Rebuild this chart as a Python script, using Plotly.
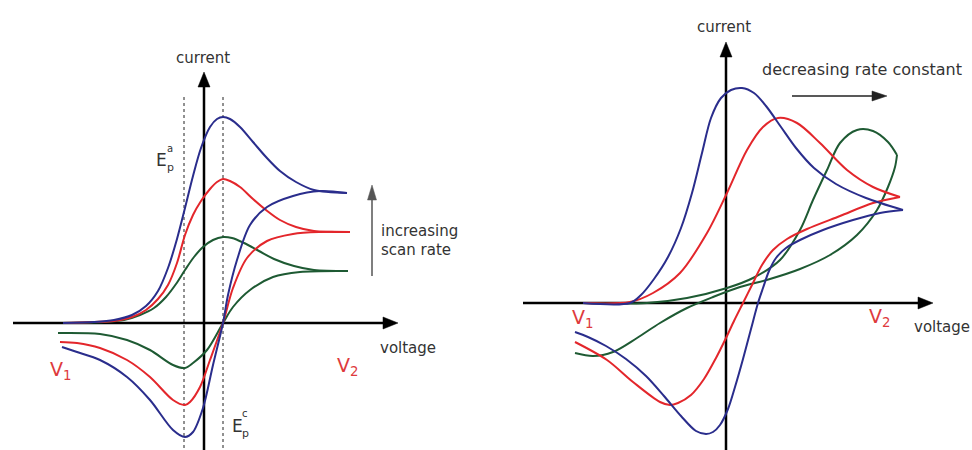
import plotly.graph_objects as go

# ---------------- Left panel: effect of scan rate (schematic units) -------------
L_blue_fwd_x = [-141, -110, -90, -72, -58, -46, -36, -27, -19, -11, -3, 6, 13, 19, 26, 36, 49, 62, 76, 92, 110, 143]
L_blue_fwd_y = [0, 1, 3, 8, 17, 32, 55, 84, 115, 147, 175, 196, 204, 206, 204, 196, 181, 166, 152, 141, 133, 130]
L_blue_rev_x = [143, 116, 89, 63, 46, 33, 24, 19, 9, -1, -11, -19, -31, -54, -77, -104, -127, -142]
L_blue_rev_y = [130, 132, 127, 116, 98, 63, 28, 0, -42, -85, -109, -114, -107, -77, -54, -37, -29, -24]

L_red_fwd_x = [-141, -110, -90, -72, -58, -46, -36, -27, -19, -11, -3, 6, 13, 19, 26, 36, 49, 62, 76, 92, 110, 146]
L_red_fwd_y = [0, 1, 2, 6, 13, 24, 38, 60, 88, 108, 122, 134, 141, 144, 142, 136, 124, 113, 103, 96, 92, 91]
L_red_rev_x = [146, 116, 89, 63, 43, 29, 19, 6, -4, -14, -19, -31, -54, -77, -104, -127, -144]
L_red_rev_y = [91, 91, 89, 82, 65, 35, 0, -37, -64, -79, -82, -77, -54, -37, -25, -20, -19]

L_green_fwd_x = [-141, -100, -80, -64, -50, -38, -28, -19, -10, -1, 9, 19, 28, 40, 55, 70, 90, 110, 144]
L_green_fwd_y = [0, 1, 3, 8, 15, 26, 39, 53, 66, 76, 83, 86, 85, 80, 72, 64, 57, 53, 52]
L_green_rev_x = [144, 96, 69, 46, 29, 19, 3, -11, -19, -31, -54, -77, -104, -146]
L_green_rev_y = [52, 51, 46, 33, 16, 0, -27, -40, -45, -42, -27, -17, -11, -10]

# ---------------- Right panel: effect of rate constant -------------------------
R_blue_fwd_x = [-143, -96, -85, -72, -58, -45, -34, -24, -15, -5, 5, 16, 28, 40, 55, 70, 88, 110, 140, 177]
R_blue_fwd_y = [0, 0, 8, 24, 46, 75, 110, 150, 185, 205, 213, 215, 210, 197, 176, 155, 135, 119, 105, 93]
R_blue_rev_x = [177, 154, 127, 97, 74, 60, 50, 43, 37, 32, 25, 17, 9, 2, -6, -13, -20, -30, -45, -62, -80, -100, -120, -138, -151]
R_blue_rev_y = [93, 90, 83, 73, 63, 55, 45, 32, 15, 0, -26, -56, -84, -106, -122, -129, -131, -128, -113, -93, -73, -56, -43, -34, -29]

R_red_fwd_x = [-143, -96, -73, -46, -19, 1, 21, 37, 52, 71, 94, 121, 147, 174]
R_red_fwd_y = [0, 1, 10, 30, 70, 110, 153, 176, 185, 180, 160, 133, 116, 106]
R_red_rev_x = [174, 147, 114, 81, 61, 47, 36, 26, 17, 8, 0, -10, -22, -35, -48, -56, -66, -93, -119, -151]
R_red_rev_y = [106, 100, 87, 74, 64, 53, 38, 18, 0, -18, -35, -55, -76, -92, -100, -102, -99, -79, -57, -39]

R_green_fwd_x = [-143, -79, -39, 1, 27, 54, 74, 87, 101, 114, 131, 147, 162, 171]
R_green_fwd_y = [0, 0, 5, 15, 25, 43, 73, 103, 133, 160, 173, 172, 161, 148]
R_green_rev_x = [171, 169, 162, 151, 131, 104, 74, 44, 14, -13, -39, -66, -89, -113, -133, -151]
R_green_rev_y = [148, 136, 116, 93, 68, 48, 34, 24, 16, 6, -5, -20, -35, -49, -53, -50]

BLUE = "#2a2d8c"
RED = "#e3262b"
GREEN = "#1e5a33"
VRED = "#de3a3c"
TXT = "#333333"
FONT = "DejaVu Sans"

fig = go.Figure()


def add(x, y, color, xa, ya):
    fig.add_trace(go.Scatter(x=x, y=y, mode="lines", xaxis=xa, yaxis=ya,
                             line=dict(color=color, width=2, shape="spline", smoothing=0.9),
                             showlegend=False, hoverinfo="skip"))


def arrow(x0, y0, x1, y1, xa, ya, w=2.5, hl=15, hw=12, color="#000000"):
    # shaft plus filled head; axes are 1 unit = 1 px in both directions
    dx, dy = x1 - x0, y1 - y0
    n = (dx * dx + dy * dy) ** 0.5
    ux, uy = dx / n, dy / n
    bx, by = x1 - ux * hl, y1 - uy * hl
    px, py = -uy, ux
    fig.add_trace(go.Scatter(x=[x0, bx + ux * 2], y=[y0, by + uy * 2], mode="lines", xaxis=xa, yaxis=ya,
                             line=dict(color=color, width=w), showlegend=False, hoverinfo="skip"))
    fig.add_trace(go.Scatter(x=[x1, bx + px * hw / 2, bx - px * hw / 2, x1],
                             y=[y1, by + py * hw / 2, by - py * hw / 2, y1],
                             mode="lines", fill="toself", fillcolor=color, xaxis=xa, yaxis=ya,
                             line=dict(color=color, width=0.5), showlegend=False, hoverinfo="skip"))


# dashed guide lines (left)
for xv in [-20, 19]:
    fig.add_trace(go.Scatter(x=[xv, xv], y=[226, -127], mode="lines", xaxis="x", yaxis="y",
                             line=dict(color="#222222", width=1, dash="dot"),
                             showlegend=False, hoverinfo="skip"))

# axes
arrow(-191, 0, 194, 0, "x", "y")
arrow(0, -130, 0, 251, "x", "y")
arrow(-203, 0, 207, 0, "x2", "y2")
arrow(0, -150, 0, 261, "x2", "y2")
# scan rate arrow / rate constant arrow
arrow(168, 47, 168, 138, "x", "y", w=1.5, hl=15, hw=9, color="#555555")
arrow(66, 207, 161, 207, "x2", "y2", w=1.5, hl=15, hw=10, color="#222222")

for xs, ys, c in [(L_green_fwd_x, L_green_fwd_y, GREEN), (L_green_rev_x, L_green_rev_y, GREEN),
                  (L_red_fwd_x, L_red_fwd_y, RED), (L_red_rev_x, L_red_rev_y, RED),
                  (L_blue_fwd_x, L_blue_fwd_y, BLUE), (L_blue_rev_x, L_blue_rev_y, BLUE)]:
    add(xs, ys, c, "x", "y")

for xs, ys, c in [(R_green_fwd_x, R_green_fwd_y, GREEN), (R_green_rev_x, R_green_rev_y, GREEN),
                  (R_red_fwd_x, R_red_fwd_y, RED), (R_red_rev_x, R_red_rev_y, RED),
                  (R_blue_fwd_x, R_blue_fwd_y, BLUE), (R_blue_rev_x, R_blue_rev_y, BLUE)]:
    add(xs, ys, c, "x2", "y2")

ann = []


def text(x, y, s, xr, yr, size=15, color=TXT, xanchor="center"):
    ann.append(dict(x=x, y=y, xref=xr, yref=yr, text=s, showarrow=False,
                    font=dict(family=FONT, size=size, color=color), xanchor=xanchor, yanchor="middle"))


text(-1.5, 265, "current", "x", "y")
text(-2.5, 276, "current", "x2", "y2")
text(174, -25, "voltage", "x", "y", xanchor="left")
text(186, -24, "voltage", "x2", "y2", xanchor="left")
text(175, 92, "increasing", "x", "y", xanchor="left")
text(175, 73, "scan rate", "x", "y", xanchor="left")
text(135.5, 234, "decreasing rate constant", "x2", "y2", size=16)

text(-144, -47, "V<sub>1</sub>", "x", "y", size=19, color=VRED)
text(143, -43, "V<sub>2</sub>", "x", "y", size=19, color=VRED)
text(-144, -15, "V<sub>1</sub>", "x2", "y2", size=19, color=VRED)
text(153, -14, "V<sub>2</sub>", "x2", "y2", size=19, color=VRED)

# E_p^a and E_p^c labels
text(-43, 163, "E", "x", "y", size=17)
text(-34, 175, "a", "x", "y", size=10)
text(-34, 156, "p", "x", "y", size=11)
text(33, -103, "E", "x", "y", size=17)
text(41, -90, "c", "x", "y", size=10)
text(41, -110, "p", "x", "y", size=11)

ax_common = dict(visible=False, showgrid=False, zeroline=False, fixedrange=True)
fig.update_layout(
    width=972, height=450,
    margin=dict(l=0, r=0, t=0, b=0),
    paper_bgcolor="white", plot_bgcolor="white",
    xaxis=dict(domain=[0, 0.5], range=[-204, 282], **ax_common),
    yaxis=dict(domain=[0, 1], range=[-127, 323], **ax_common),
    xaxis2=dict(domain=[0.5, 1], range=[-240, 246], anchor="y2", **ax_common),
    yaxis2=dict(domain=[0, 1], range=[-147, 303], anchor="x2", **ax_common),
    annotations=ann,
)

fig.write_html("out.html", config={"displayModeBar": False},
               post_script="document.body.style.margin='0';document.body.style.overflow='hidden';")
